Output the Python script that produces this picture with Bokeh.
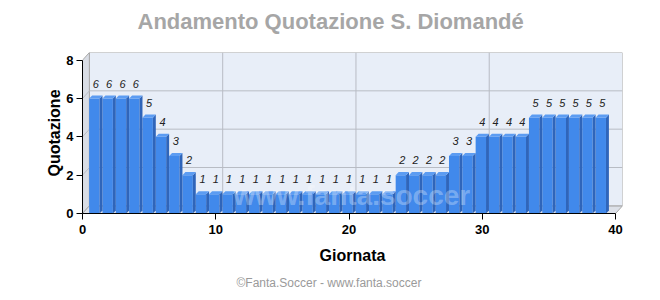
from bokeh.plotting import figure
from bokeh.models import Range1d, FixedTicker, Title, Label
from bokeh.embed import file_html
from bokeh.resources import INLINE
from bokeh.core.properties import value
import numpy as np

title_text = "Andamento Quotazione S. Diomandé"
x_label = "Giornata"
y_label = "Quotazione"
footer_text = "©Fanta.Soccer - www.fanta.soccer"
watermark_text = "www.fanta.soccer"
giornate = list(range(1, 40))
quotazioni = [6, 6, 6, 6, 5, 4, 3, 2] + [1] * 15 + [2, 2, 2, 2, 3, 3, 4, 4, 4, 4, 5, 5, 5, 5, 5, 5]
x_ticks = [0, 10, 20, 30, 40]
y_ticks = [0, 2, 4, 6, 8]

X_MAX = 40
Y_MAX = 8
DX = 0.52   # 3D depth in x data units
DY = 0.40   # 3D depth in y data units

FONT = "Liberation Sans"
W, H = 660, 300
BL, BR, BT, BB = 82, 38, 52, 87   # borders around the frame

p = figure(width=W, height=H, output_backend="svg", toolbar_location=None,
           x_range=Range1d(0, X_MAX + DX), y_range=Range1d(0, Y_MAX + DY),
           min_border_left=BL, min_border_right=BR, min_border_top=BT, min_border_bottom=BB)
p.background_fill_color = "white"
p.border_fill_color = "white"
p.outline_line_color = None
p.grid.visible = False

# 3D walls
p.patch([0, DX, DX, 0], [0, DY, Y_MAX + DY, Y_MAX], fill_color="#D9DDE5", line_color="#A8A8A8", line_width=1)
p.patch([0, X_MAX, X_MAX + DX, DX], [0, 0, DY, DY], fill_color="#DCE0E8", line_color="#A8A8A8", line_width=1)
p.quad(left=DX, right=X_MAX + DX, bottom=DY, top=Y_MAX + DY, fill_color="#E8EEF8",
       line_color="#A8A8A8", line_width=1)

# grid lines on back wall
gy = [t + DY for t in y_ticks[1:-1]]
p.segment(x0=[DX] * len(gy), y0=gy, x1=[X_MAX + DX] * len(gy), y1=gy, line_color="#B8BCC4", line_width=1)
p.segment(x0=[0] * len(gy), y0=y_ticks[1:-1], x1=[DX] * len(gy), y1=gy, line_color="#B8BCC4", line_width=1)
gx = [t + DX for t in x_ticks[1:-1]]
p.segment(x0=gx, y0=[DY] * len(gx), x1=gx, y1=[Y_MAX + DY] * len(gx), line_color="#B8BCC4", line_width=1)

# bars (3D look)
d = np.array(giornate, dtype=float)
v = np.array(quotazioni, dtype=float)
FW = 0.78  # front face width fraction
SD = 0.16  # side depth in y units
left = d - 0.5
right = d - 0.5 + FW
p.quad(left=left, right=right, bottom=0, top=v, fill_color="#4189EB", line_color=None)
side_xs = [[r, r + (1 - FW), r + (1 - FW), r] for r in right]
side_ys = [[0, SD, h + SD, h] for h in v]
p.patches(side_xs, side_ys, fill_color="#2F65BA", line_color=None)
top_xs = [[l, r, r + (1 - FW), l + (1 - FW)] for l, r in zip(left, right)]
top_ys = [[h, h, h + SD, h + SD] for h in v]
p.patches(top_xs, top_ys, fill_color="#5C9CF2", line_color=None)

# value labels
p.text(x=giornate, y=quotazioni, text=[str(q) for q in quotazioni],
       text_font=value(FONT), text_font_style="italic", text_font_size="11px",
       text_color="#222222", text_align="center", text_baseline="alphabetic", y_offset=-15)

# watermark
p.add_layout(Label(x=20.2, y=0.95, text=watermark_text, text_font=FONT, text_font_style="bold",
                   text_font_size="28px", text_color="white", text_alpha=0.3,
                   text_align="center", text_baseline="middle"))

# axes
for ax, ticks, lab, bnd in ((p.xaxis[0], x_ticks, x_label, (0, X_MAX)), (p.yaxis[0], y_ticks, y_label, (0, Y_MAX))):
    ax.ticker = FixedTicker(ticks=ticks)
    ax.bounds = bnd
    ax.axis_label = lab
    ax.axis_label_text_font = FONT
    ax.axis_label_text_font_style = "bold"
    ax.axis_label_text_font_size = "16px"
    ax.axis_label_text_color = "black"
    ax.major_label_text_font = FONT
    ax.major_label_text_font_style = "bold"
    ax.major_label_text_font_size = "13px"
    ax.major_label_text_color = "black"
    ax.axis_line_color = "black"
    ax.major_tick_line_color = "black"
    ax.major_tick_out = 6
    ax.major_tick_in = 0
    ax.minor_tick_line_color = None
p.yaxis[0].major_label_standoff = 3
p.yaxis[0].axis_label_standoff = 0
p.xaxis[0].major_label_standoff = 5
p.xaxis[0].axis_label_standoff = 10

# title (with an empty spacer panel between it and the frame) and footer
spacer = Title(text=" ", text_font_size="1px", standoff=13)
p.add_layout(spacer, "above")
t = Title(text=title_text, align="left", text_font=FONT, text_font_style="bold",
          text_font_size="22px", text_color="#A6A6A6", offset=55, standoff=6)
p.add_layout(t, "above")
f = Title(text=footer_text, align="left", text_font=FONT, text_font_style="normal",
          text_font_size="12px", text_color="#9A9A9A", offset=154, standoff=14)
p.add_layout(f, "below")

open("out.html", "w").write(file_html(p, INLINE))
